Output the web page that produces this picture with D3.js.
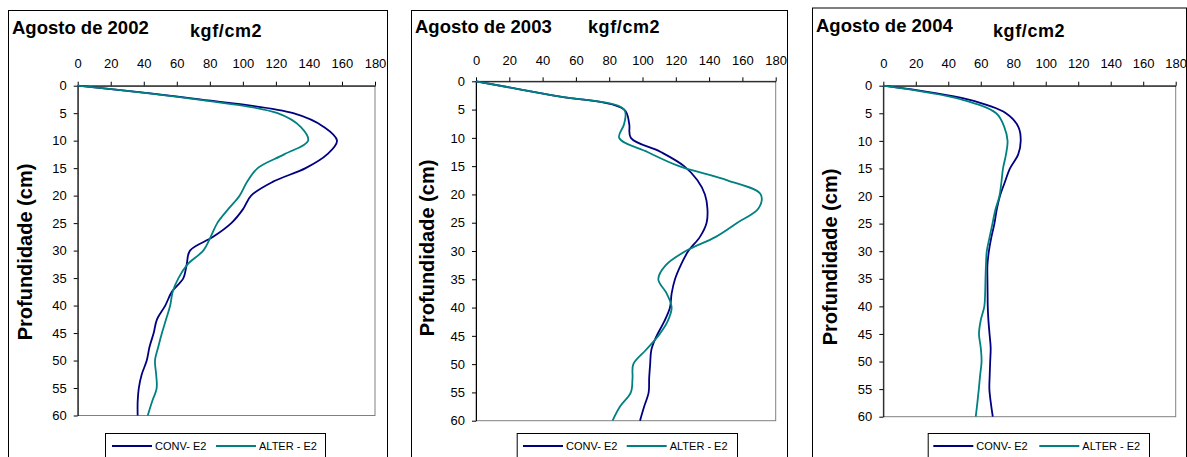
<!DOCTYPE html>
<html>
<head>
<meta charset="utf-8">
<script src="https://cdn.jsdelivr.net/npm/d3@7"></script>
<style>
body { margin: 0; background: #fff; }
svg { display: block; }
text { font-family: "Liberation Sans", Arial, sans-serif; fill: #000; }
</style>
</head>
<body>
<div id="VizBox"></div>
<script>

// Depth (cm) and penetration resistance (kgf/cm2)
var depths = [0, 2.5, 5, 7.5, 10, 12.5, 15, 17.5, 20, 22.5, 25, 27.5, 30,
  32.5, 35, 37.5, 40, 42.5, 45, 47.5, 50, 52.5, 55, 57.5, 60];

var conv2002  = [0, 74, 130.5, 149, 157, 151, 138, 118, 105, 100, 93, 82, 68,
  66, 64, 57, 53, 48, 46, 43.5, 41.8, 38.8, 37, 36.3, 36.3];
var alter2002 = [0, 72, 121, 135, 139.5, 125, 109, 102.5, 98, 91, 84.5, 80.5, 76,
  66.5, 61, 57.5, 56, 53.5, 51, 48.8, 46.8, 47.5, 47.8, 45, 42.4];

var conv2003  = [0, 46, 89, 92, 93, 111, 125, 133, 137.5, 139, 138.5, 134.5, 127.5,
  123, 119.5, 117.5, 116.5, 113, 108.5, 105.3, 104.6, 104, 103.7, 101, 98.5];
var alter2003 = [0, 46, 89, 89, 86, 103, 122, 151, 171, 169.6, 157, 144, 126,
  114, 109.5, 114.5, 117.5, 115, 109.5, 102, 94.5, 94, 93, 86.5, 82];

var conv2004  = [0, 52, 75.5, 83.2, 84.6, 83, 78, 74.8, 71.8, 69.8, 68.4, 66.5, 65,
  64.1, 64.1, 64.2, 64.3, 64.7, 65.4, 66.1, 65.8, 65.5, 65.3, 66.2, 67.4];
var alter2004 = [0, 48, 69.5, 74.5, 76.5, 75.5, 73.7, 72.7, 71.5, 69, 67.2, 65.4, 63.7,
  63.2, 62.9, 62.7, 62.2, 60, 58.9, 60, 60.5, 59.6, 58.8, 57.9, 56.9];

var xTicks = [0, 20, 40, 60, 80, 100, 120, 140, 160, 180];
var yTicks = [0, 5, 10, 15, 20, 25, 30, 35, 40, 45, 50, 55, 60];
var titles = ["Agosto de 2002", "Agosto de 2003", "Agosto de 2004"];
var seriesNames = ["CONV- E2", "ALTER - E2"];
var seriesColors = ["#000080", "#008080"];
var unitLabel = "kgf/cm2";
var yLabel = "Profundidade (cm)";

var panelSeries = [[conv2002, alter2002], [conv2003, alter2003], [conv2004, alter2004]];

// Layout of each panel (page pixels)
var panels = [
  {frame: [8, 10, 387], plot: [77.7, 375, 85.7, 415.5], title: [12, 34], unit: [190, 37.3],
   tickPad: 14, yLab: [25, 252], legend: [105, 325, 112, 216]},
  {frame: [411, 10, 787], plot: [476, 775.7, 81.3, 420.7], title: [415, 33.3], unit: [588, 33.3],
   tickPad: 12.5, yLab: [427, 248], legend: [516.7, 737, 523, 626.7]},
  {frame: [812, 7.5, 1186], plot: [883.3, 1175.7, 85.7, 416.7], title: [816, 31.7], unit: [993, 37.3],
   tickPad: 14, yLab: [830, 257], legend: [927.7, 1149, 933.3, 1039.3]}
];

var svg = d3.select("#VizBox")
  .append("svg")
  .attr("width", 1187)
  .attr("height", 457);

panels.forEach(function(p, i) {
  var g = svg.append("g");

  // outer chart frame
  g.append("rect")
    .attr("x", p.frame[0] + 0.5).attr("y", p.frame[1] + 0.5)
    .attr("width", p.frame[2] - p.frame[0]).attr("height", 480)
    .attr("fill", "none").attr("stroke", "#000").attr("stroke-width", 1);

  var x = d3.scaleLinear().domain([0, 180]).range([p.plot[0], p.plot[1]]);
  var y = d3.scaleLinear().domain([0, 60]).range([p.plot[2], p.plot[3]]);

  // plot area border (grey right / bottom)
  g.append("rect")
    .attr("x", x(0)).attr("y", y(0))
    .attr("width", x(180) - x(0)).attr("height", y(60) - y(0))
    .attr("fill", "none").attr("stroke", "#808080").attr("stroke-width", 1);

  var xAxis = g.append("g")
    .attr("transform", "translate(0," + y(0) + ")")
    .call(d3.axisTop(x).tickValues(xTicks).tickSize(4).tickSizeOuter(0).tickPadding(p.tickPad));
  var yAxis = g.append("g")
    .attr("transform", "translate(" + x(0) + ",0)")
    .call(d3.axisLeft(y).tickValues(yTicks).tickSize(4).tickSizeOuter(0).tickPadding(7));

  [xAxis, yAxis].forEach(function(a) {
    a.selectAll("path, line").attr("stroke", "#000");
    a.selectAll("text").attr("font-size", 13).attr("fill", "#000")
      .attr("font-family", "'Liberation Sans', Arial, sans-serif");
  });

  // series lines
  var line = d3.line()
    .x(function(d) { return x(d[1]); })
    .y(function(d) { return y(d[0]); })
    .curve(d3.curveCatmullRom.alpha(0.5));

  panelSeries[i].forEach(function(vals, k) {
    g.append("path")
      .datum(depths.map(function(d, j) { return [d, vals[j]]; }))
      .attr("d", line)
      .attr("fill", "none")
      .attr("stroke", seriesColors[k])
      .attr("stroke-width", 1.8);
  });

  // titles
  g.append("text")
    .attr("x", p.title[0]).attr("y", p.title[1])
    .attr("font-size", 18.5).attr("font-weight", "bold")
    .text(titles[i]);
  g.append("text")
    .attr("x", p.unit[0]).attr("y", p.unit[1])
    .attr("font-size", 18).attr("font-weight", "bold")
    .attr("letter-spacing", 0.6)
    .text(unitLabel);

  g.append("text")
    .attr("transform", "translate(" + p.yLab[0] + "," + p.yLab[1] + ") rotate(-90)")
    .attr("text-anchor", "middle").attr("dy", "0.35em")
    .attr("font-size", 20).attr("font-weight", "bold")
    .text(yLabel);

  // legend
  var lg = g.append("g");
  lg.append("rect")
    .attr("x", p.legend[0] + 0.5).attr("y", 433.5)
    .attr("width", p.legend[1] - p.legend[0]).attr("height", 40)
    .attr("fill", "#fff").attr("stroke", "#000").attr("stroke-width", 1);
  seriesNames.forEach(function(name, k) {
    var lx = p.legend[2 + k];
    lg.append("line")
      .attr("x1", lx).attr("x2", lx + 40)
      .attr("y1", 446).attr("y2", 446)
      .attr("stroke", seriesColors[k]).attr("stroke-width", 1.8);
    lg.append("text")
      .attr("x", lx + 43).attr("y", 450)
      .attr("font-size", 11)
      .text(name);
  });
});

</script>
</body>
</html>
